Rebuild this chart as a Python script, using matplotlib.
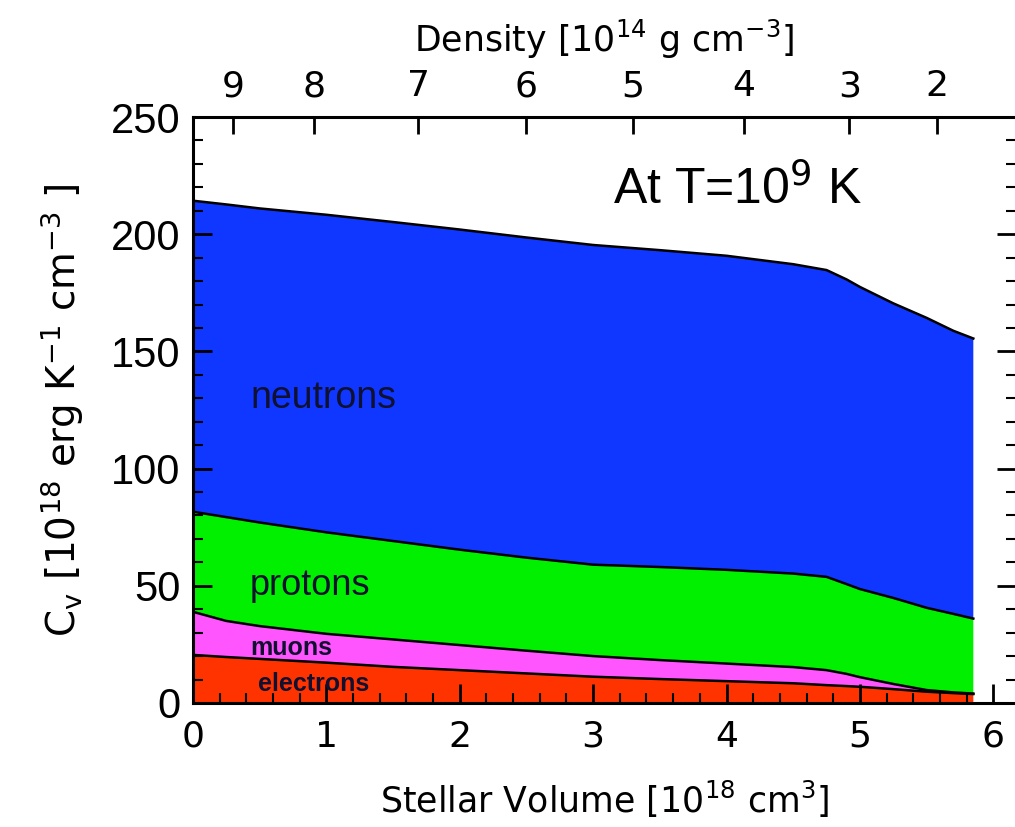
#!/usr/bin/env python3
"""Specific heat of neutron-star matter vs stellar volume, stacked by species."""

import matplotlib.pyplot as plt
import numpy as np

# stellar volume [1e18 cm^3]
volume = np.array([0, 0.25, 0.5, 1, 1.5, 2, 2.5, 3, 3.5, 4, 4.5, 4.75, 4.9, 5.0, 5.25, 5.5, 5.7, 5.85])

# heat capacity contributions [1e18 erg/K/cm^3]
electrons = [20.5, 19.6, 18.8, 17.2, 15.4, 14.0, 12.6, 11.2, 10.2, 9.3, 8.4, 7.6, 7.2, 6.9, 5.9, 4.8, 4.2, 3.8]
muons = [18.4, 15.4, 14.0, 12.3, 11.7, 10.7, 9.7, 8.8, 8.1, 7.5, 6.9, 6.4, 5.2, 4.1, 2.2, 0.7, 0.3, 0.2]
protons = [42.7, 44.3, 44.2, 43.3, 42.0, 40.7, 39.7, 39.0, 39.7, 40.0, 39.9, 39.8, 38.3, 37.6, 36.7, 35.1,
           33.5, 32.0]
neutrons = [132.7, 133.4, 134.0, 135.5, 136.1, 136.6, 136.6, 136.4, 135.2, 134.0, 132.0, 130.9,
            130.0, 128.9, 125.7, 123.7, 120.8, 119.5]

# top axis: density [1e14 g/cm^3] and where it sits in volume
density_labels = ["9", "8", "7", "6", "5", "4", "3", "2"]
density_at_volume = [0.30, 0.91, 1.69, 2.50, 3.30, 4.13, 4.92, 5.58]

colors = ["#ff3300", "#ff55ff", "#00f000", "#0f37ff"]

fig = plt.figure(figsize=(10.15, 8.27), dpi=100)
ax = fig.add_axes([0.190, 0.150, 0.811, 0.7085])

layers = [electrons, muons, protons, neutrons]
ax.stackplot(volume, layers, colors=colors, linewidth=0)
tops = np.cumsum(np.array(layers), axis=0)
for top in tops:
    ax.plot(volume, top, color="black", lw=1.8)

ax.set_xlim(0, 6.17)
ax.set_ylim(0, 250)
ax.set_xticks(np.arange(0, 7, 1))
ax.set_xticks(np.arange(0, 6.1, 0.2), minor=True)
ax.set_yticks(np.arange(0, 251, 50))
ax.set_yticks(np.arange(0, 251, 10), minor=True)
ax.tick_params(which="both", direction="in", right=True, top=False, width=2)
ax.tick_params(which="major", length=14)
ax.tick_params(which="minor", length=7, width=1.5)
ax.tick_params(axis="x", labelsize=26, pad=12)
ax.tick_params(axis="y", labelsize=30, pad=9)
for lab in ax.get_yticklabels():
    lab.set_fontfamily("Liberation Sans")
for s in ax.spines.values():
    s.set_linewidth(2.2)

ax.set_xlabel("Stellar Volume [10$^{18}$ cm$^{3}$]", fontsize=25, labelpad=18)
ax.set_ylabel("C$_\\mathrm{v}$ [10$^{18}$ erg K$^{-1}$ cm$^{-3}$ ]", fontsize=28, labelpad=18)

top_ax = ax.twiny()
top_ax.set_xlim(ax.get_xlim())
top_ax.set_xticks(density_at_volume)
top_ax.set_xticklabels(density_labels)
top_ax.tick_params(direction="in", length=12, width=2, labelsize=26, pad=10)
top_ax.set_xlabel("Density [10$^{14}$ g cm$^{-3}$]", fontsize=25, labelpad=12)

txt = dict(family="Liberation Sans", color="#101030", ha="left", va="center")
ax.text(0.43, 130, "neutrons", fontsize=27, **txt)
ax.text(0.43, 50, "protons", fontsize=26, **txt)
ax.text(0.43, 23.5, "muons", fontsize=18, fontweight="bold", **txt)
ax.text(0.49, 8.2, "electrons", fontsize=18, fontweight="bold", **txt)
ax.text(3.15, 219, "At T=10$^9$ K", fontsize=36, family="Liberation Sans", ha="left", va="center")

fig.savefig("out.png", dpi=100)
